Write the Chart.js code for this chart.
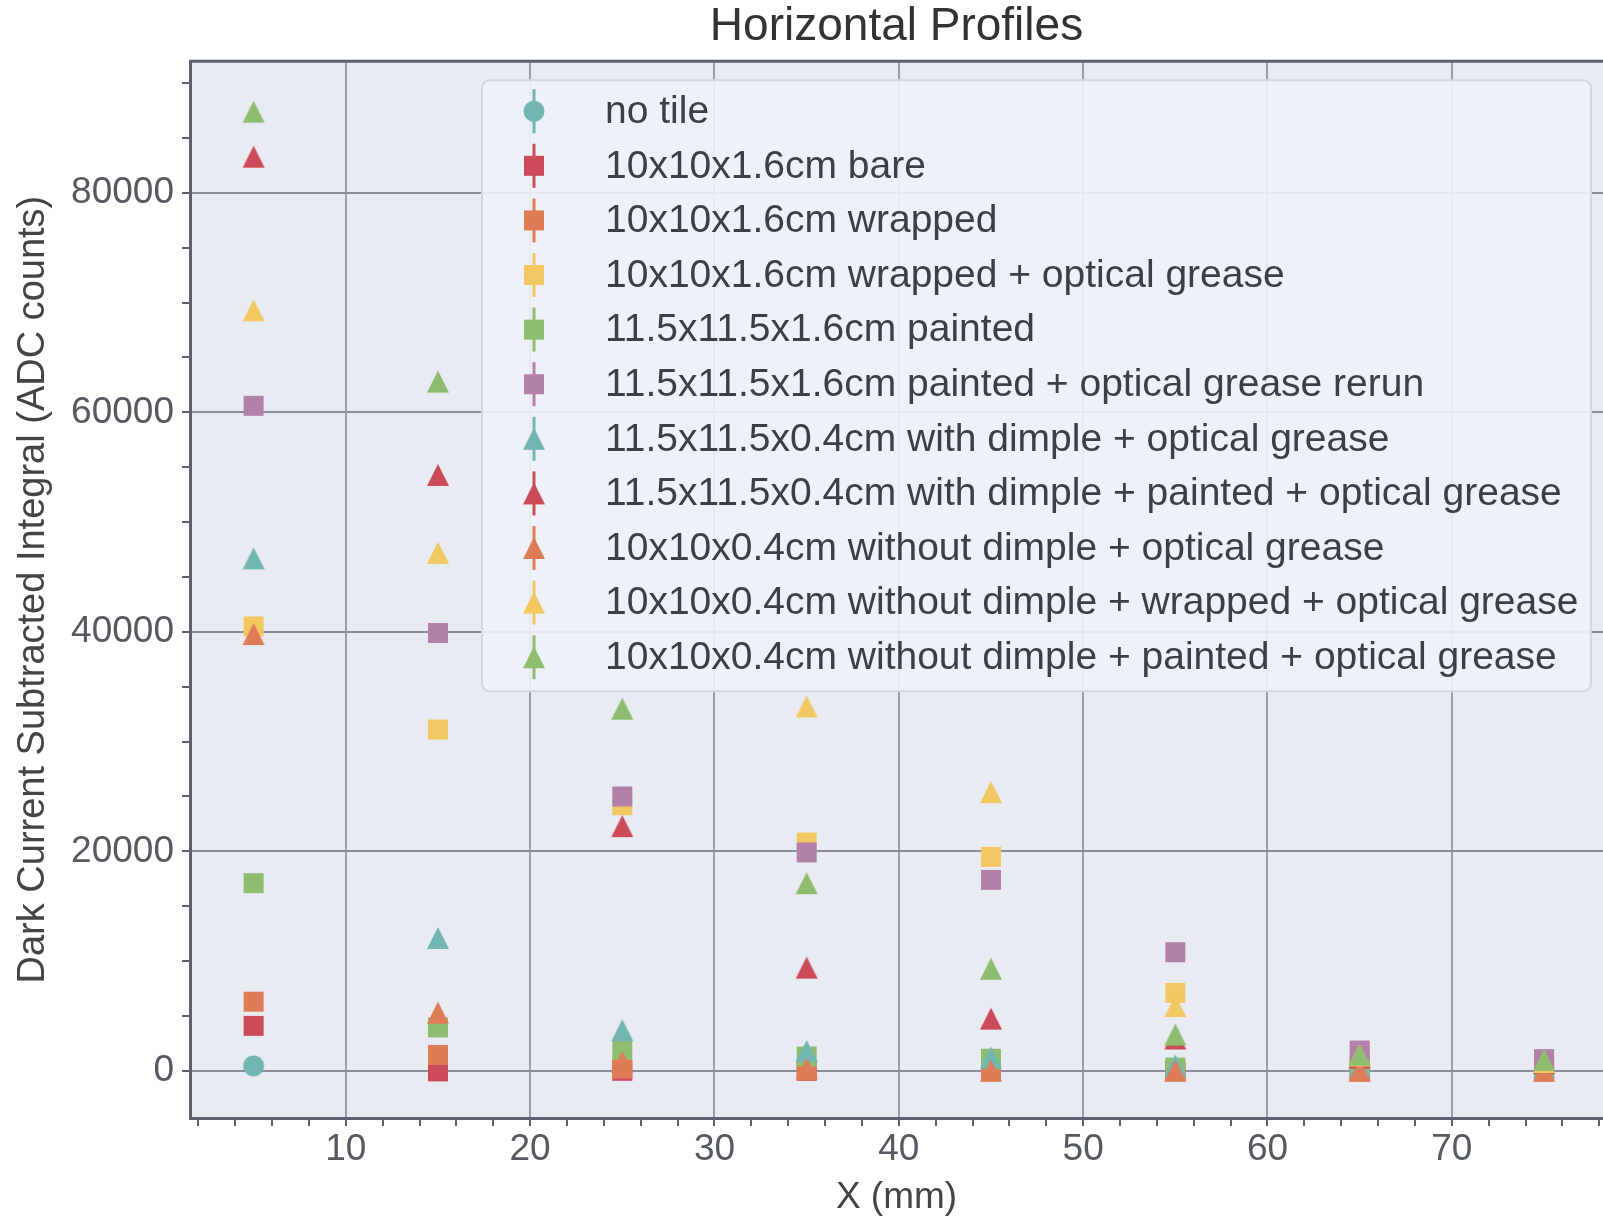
<!DOCTYPE html>
<html>
<head>
<meta charset="utf-8">
<title>Horizontal Profiles</title>
<script src="https://cdn.jsdelivr.net/npm/chart.js@4.4.1/dist/chart.umd.min.js"></script>
<style>
  html, body { margin: 0; padding: 0; background: #fff; overflow: hidden; }
  #wrap { position: relative; width: 1603px; height: 1220px; }
  #wrap canvas { display: block; }
</style>
</head>
<body>
<div id="wrap"><canvas id="profiles"></canvas></div>
<script>
// scan positions (mm)
const xPositions = [5, 15, 25, 35, 45, 55, 65, 75];

const seriesLabels = [
  'no tile',
  '10x10x1.6cm bare',
  '10x10x1.6cm wrapped',
  '10x10x1.6cm wrapped + optical grease',
  '11.5x11.5x1.6cm painted',
  '11.5x11.5x1.6cm painted + optical grease rerun',
  '11.5x11.5x0.4cm with dimple + optical grease',
  '11.5x11.5x0.4cm with dimple + painted + optical grease',
  '10x10x0.4cm without dimple + optical grease',
  '10x10x0.4cm without dimple + wrapped + optical grease',
  '10x10x0.4cm without dimple + painted + optical grease'
];

// dark current subtracted integral (ADC counts), one value per x position
const noTile            = [450, null, null, null, null, null, null, null];
const bare16            = [4100, -50, 0, 0, 0, 0, 0, 0];
const wrapped16         = [6300, 1450, 200, 50, 0, 0, -50, -50];
const wrappedGrease16   = [40500, 31100, 24200, 20800, 19500, 7100, 1600, 900];
const painted16         = [17100, 3950, 1900, 1300, 1100, 300, 500, 300];
const paintedGrease16   = [60600, 39900, 25000, 19900, 17400, 10800, 1850, 1070];
const dimpleGrease04    = [46700, 12100, 3700, 1800, 1200, 500, 400, 300];
const dimplePainted04   = [83300, 54300, 22300, 9400, 4750, 2950, 1200, 700];
const noDimpleGrease04  = [39800, 5300, 800, 200, 0, 0, 0, 0];
const noDimpleWrapped04 = [69300, 47200, null, 33200, 25400, 5900, 1400, 800];
const noDimplePainted04 = [87400, 62800, 33000, 17100, 9300, 3300, 1460, 1000];

const seriesValues = [noTile, bare16, wrapped16, wrappedGrease16, painted16, paintedGrease16,
  dimpleGrease04, dimplePainted04, noDimpleGrease04, noDimpleWrapped04, noDimplePainted04];

// axis ticks: labelled majors every 10 mm / 20000 counts, minors in between
const xMajorStep = 10;
const xMinorStep = 2;
const yMajorStep = 20000;
const yMinorStep = 5000;
const xTickValues = [];
for (let v = xMinorStep; v <= 78; v += xMinorStep) xTickValues.push(v);
const yTickValues = [];
for (let v = 0; v <= 90000; v += yMinorStep) yTickValues.push(v);

const seriesColors = ['#72b6b1', '#cc4b58', '#de7c57', '#f2c862', '#8fbd70', '#b280a9',
  '#72b6b1', '#cc4b58', '#de7c57', '#f2c862', '#8fbd70'];
const seriesShapes = ['circle', 'square', 'square', 'square', 'square', 'square',
  'triangle', 'triangle', 'triangle', 'triangle', 'triangle'];

const FONT = "'Liberation Sans', Arial, Helvetica, sans-serif";

function makeMarker(shape, color) {
  const c = document.createElement('canvas');
  c.width = 24;
  c.height = 24;
  const g = c.getContext('2d');
  g.fillStyle = color;
  g.beginPath();
  if (shape === 'circle') {
    g.arc(12, 12, 10.5, 0, Math.PI * 2);
  } else if (shape === 'square') {
    g.rect(2, 2, 20, 20);
  } else {
    g.moveTo(12, 1);
    g.lineTo(23, 23);
    g.lineTo(1, 23);
    g.closePath();
  }
  g.fill();
  return c;
}

const markers = seriesShapes.map((s, i) => makeMarker(s, seriesColors[i]));

function toPoints(vals) {
  return xPositions
    .map((x, i) => ({ x: x, y: vals[i] }))
    .filter((p) => p.y !== null);
}

const datasets = seriesLabels.map((label, i) => ({
  label: label,
  data: toPoints(seriesValues[i]),
  pointStyle: markers[i],
  pointRadius: 10,
  pointHoverRadius: 10,
  backgroundColor: seriesColors[i],
  borderColor: seriesColors[i],
  showLine: false,
  order: seriesLabels.length - i
}));

const plotBackground = {
  id: 'plotBackground',
  beforeDraw(chart) {
    const { ctx, chartArea: a } = chart;
    ctx.save();
    ctx.fillStyle = '#e9ebf3';
    ctx.fillRect(a.left, a.top, a.right - a.left, a.bottom - a.top);
    ctx.restore();
  },
  beforeDatasetsDraw(chart) {
    const { ctx, chartArea: a } = chart;
    ctx.save();
    ctx.strokeStyle = '#5d6170';
    ctx.lineWidth = 3;
    ctx.beginPath();
    ctx.moveTo(a.left, a.top);
    ctx.lineTo(a.right, a.top);
    ctx.stroke();
    ctx.restore();
  }
};

const boxLegend = {
  id: 'boxLegend',
  afterDraw(chart) {
    const { ctx, chartArea: a } = chart;
    const left = a.left + 292;
    const top = a.top + 19;
    const w = 1109;
    const h = 611;
    ctx.save();
    ctx.fillStyle = 'rgba(240, 242, 248, 0.9)';
    ctx.strokeStyle = '#d3d6de';
    ctx.lineWidth = 2;
    ctx.beginPath();
    ctx.roundRect(left, top, w, h, 8);
    ctx.fill();
    ctx.stroke();

    ctx.font = '39px ' + FONT;
    ctx.fillStyle = '#3d3f46';
    ctx.textBaseline = 'middle';
    chart.data.datasets.forEach((ds, i) => {
      const y = top + 31 + i * 54.6;
      const mx = left + 52;
      ctx.strokeStyle = seriesColors[i];
      ctx.lineWidth = 3;
      ctx.beginPath();
      ctx.moveTo(mx, y - 22);
      ctx.lineTo(mx, y + 22);
      ctx.stroke();
      const m = markers[i];
      ctx.drawImage(m, mx - m.width / 2, y - m.height / 2);
      ctx.fillText(ds.label, left + 123, y + 1);
    });
    ctx.restore();
  }
};

new Chart(document.getElementById('profiles'), {
  type: 'scatter',
  data: { datasets: datasets },
  plugins: [plotBackground, boxLegend],
  options: {
    responsive: true,
    maintainAspectRatio: false,
    animation: false,
    layout: { padding: 0, autoPadding: false },
    plugins: {
      legend: { display: false },
      tooltip: { enabled: false },
      title: {
        display: true,
        text: 'Horizontal Profiles',
        fullSize: false,
        color: '#333',
        font: { family: FONT, size: 46, weight: 'normal' },
        padding: { top: 0, bottom: 6 }
      }
    },
    scales: {
      x: {
        type: 'linear',
        min: 1.55,
        max: 78.2,
        afterBuildTicks: (s) => { s.ticks = xTickValues.map((v) => ({ value: v })); },
        afterFit: (s) => { s.height = 102; },
        ticks: {
          autoSkip: false,
          maxRotation: 0,
          padding: 2,
          color: '#555960',
          font: { family: FONT, size: 37 },
          callback: (v) => (v % xMajorStep === 0 ? String(v) : '')
        },
        grid: {
          color: (c) => (c.tick && c.tick.value % xMajorStep === 0 ? '#9a9eab' : 'rgba(0,0,0,0)'),
          lineWidth: 2,
          tickColor: '#5d6170',
          tickLength: 8,
          tickWidth: 2
        },
        border: { color: '#5d6170', width: 3 },
        title: {
          display: true,
          text: 'X (mm)',
          color: '#444',
          font: { family: FONT, size: 37 },
          padding: { top: 0, bottom: 0 }
        }
      },
      y: {
        min: -4300,
        max: 92000,
        afterBuildTicks: (s) => { s.ticks = yTickValues.map((v) => ({ value: v })); },
        afterFit: (s) => { s.width = 190; },
        ticks: {
          autoSkip: false,
          padding: 8,
          color: '#555960',
          font: { family: FONT, size: 37 },
          callback: (v) => (v % yMajorStep === 0 ? String(v) : '')
        },
        grid: {
          color: (c) => (c.tick && c.tick.value % yMajorStep === 0 ? '#8a8e9b' : 'rgba(0,0,0,0)'),
          lineWidth: 2,
          tickColor: '#5d6170',
          tickLength: 8,
          tickWidth: 2
        },
        border: { color: '#5d6170', width: 3 },
        title: {
          display: true,
          text: 'Dark Current Subtracted Integral (ADC counts)',
          color: '#444',
          font: { family: FONT, size: 38 },
          padding: { top: 11, bottom: 0 }
        }
      }
    }
  }
});
</script>
</body>
</html>
